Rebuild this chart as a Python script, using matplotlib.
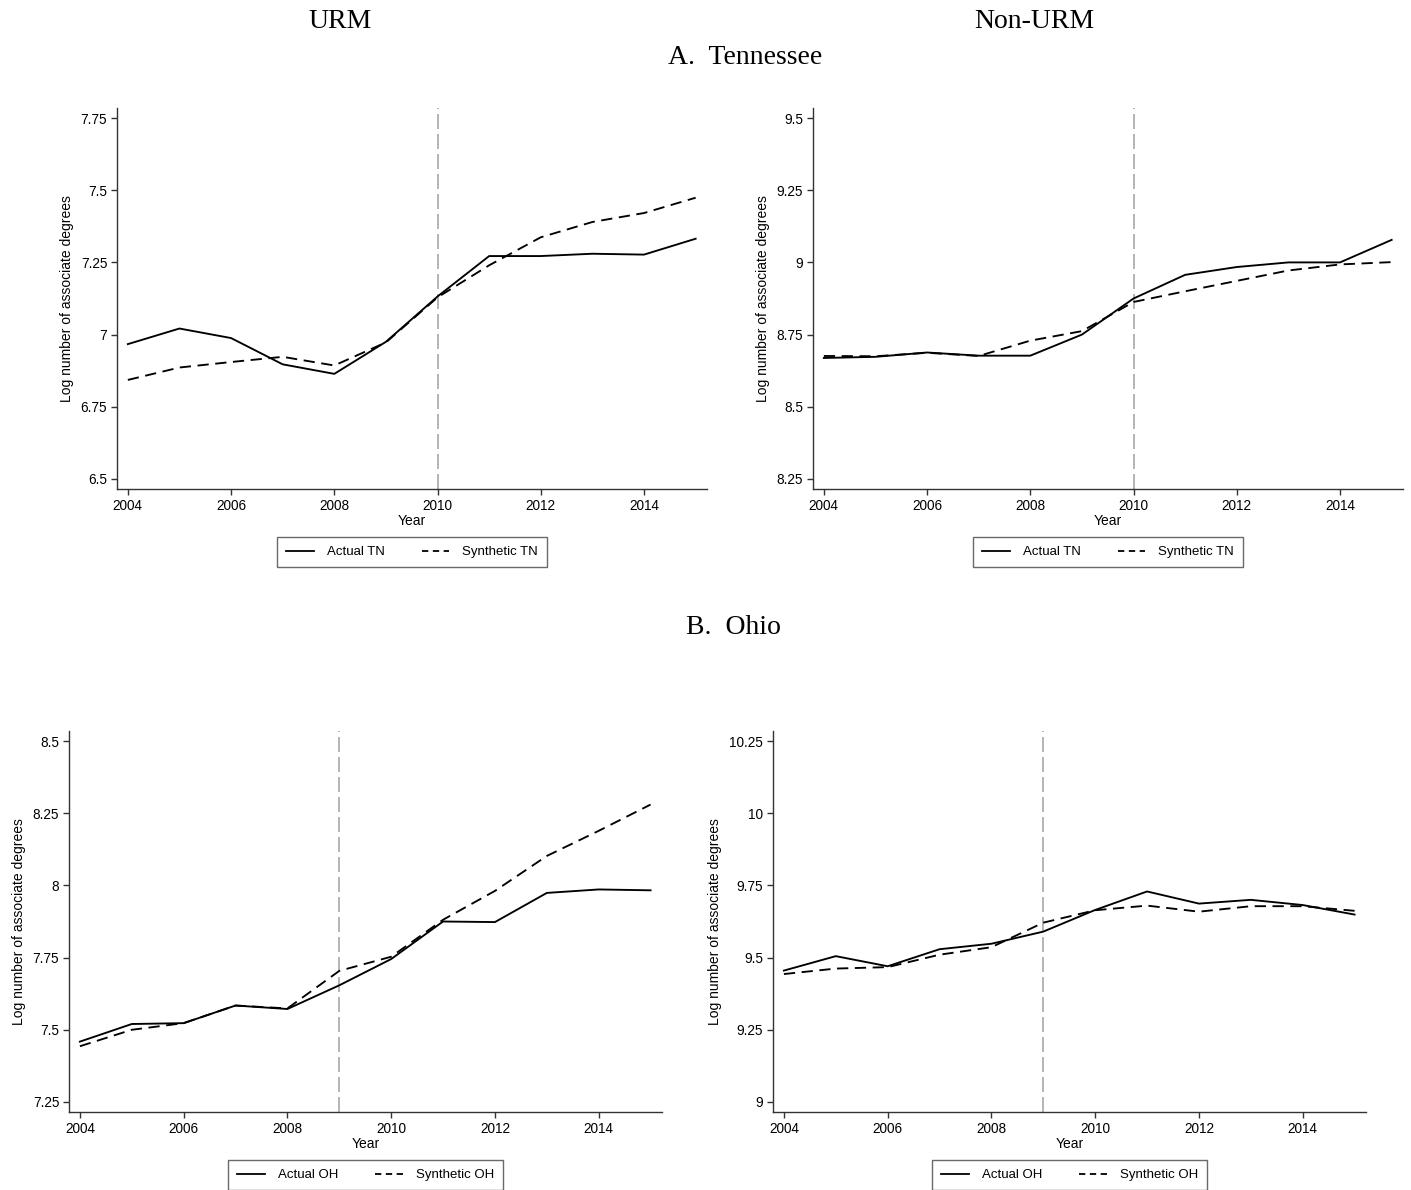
import matplotlib
matplotlib.use("Agg")
import matplotlib.pyplot as plt
from matplotlib.lines import Line2D

plt.rcParams['font.family'] = ['Liberation Sans', 'DejaVu Sans']

years = list(range(2004, 2016))

# Tennessee, URM
tn_urm_actual = [6.967, 7.021, 6.988, 6.897, 6.864, 6.975, 7.132, 7.272, 7.272, 7.280, 7.277, 7.332]
tn_urm_synth = [6.843, 6.886, 6.905, 6.923, 6.893, 6.973, 7.129, 7.240, 7.337, 7.390, 7.421, 7.474]
# Tennessee, non-URM
tn_non_actual = [8.669, 8.673, 8.688, 8.677, 8.677, 8.750, 8.875, 8.957, 8.984, 9.000, 9.000, 9.078]
tn_non_synth = [8.676, 8.675, 8.687, 8.676, 8.729, 8.762, 8.863, 8.900, 8.936, 8.972, 8.993, 9.001]
# Ohio, URM
oh_urm_actual = [7.459, 7.520, 7.523, 7.584, 7.572, 7.654, 7.745, 7.875, 7.873, 7.974, 7.986, 7.983]
oh_urm_synth = [7.443, 7.500, 7.523, 7.584, 7.574, 7.704, 7.753, 7.881, 7.981, 8.102, 8.189, 8.280]
# Ohio, non-URM
oh_non_actual = [9.455, 9.505, 9.470, 9.529, 9.548, 9.590, 9.665, 9.729, 9.687, 9.700, 9.682, 9.649]
oh_non_synth = [9.443, 9.462, 9.467, 9.510, 9.536, 9.621, 9.664, 9.680, 9.659, 9.678, 9.678, 9.662]

tn_yticks_urm = [6.5, 6.75, 7, 7.25, 7.5, 7.75]
tn_yticks_non = [8.25, 8.5, 8.75, 9, 9.25, 9.5]
oh_yticks_urm = [7.25, 7.5, 7.75, 8, 8.25, 8.5]
oh_yticks_non = [9, 9.25, 9.5, 9.75, 10, 10.25]
xticks = [2004, 2006, 2008, 2010, 2012, 2014]

W, H = 1411, 1190
fig = plt.figure(figsize=(W / 100, H / 100), dpi=100)


def fx(px):
    return px / W


def fy(py):
    return 1 - py / H


def panel(left, top, right, bottom, actual, synth, yticks, treat, state):
    ax = fig.add_axes([fx(left), fy(bottom), fx(right - left), (bottom - top) / H])
    ax.plot(years, actual, color='black', lw=1.35)
    ax.plot(years, synth, color='black', lw=1.35, dashes=(6, 3.5))
    ax.axvline(treat, color='#a8a8a8', lw=1.2, dashes=(9, 3), zorder=0)
    pad = (yticks[-1] - yticks[0]) * 10 / 360
    ax.set_ylim(yticks[0] - pad, yticks[-1] + pad)
    ax.set_xlim(2003.79, 2015.22)
    ax.set_xticks(xticks)
    ax.set_yticks(yticks)
    ax.set_yticklabels([f"{v:g}" for v in yticks])
    for side in ('top', 'right'):
        ax.spines[side].set_visible(False)
    for side in ('left', 'bottom'):
        ax.spines[side].set_color('#333333')
        ax.spines[side].set_linewidth(1.0)
    ax.tick_params(direction='out', length=4, width=1, color='#333333',
                   labelsize=9.8, pad=3)
    ax.set_xlabel('Year', fontsize=10, labelpad=1)
    ax.set_ylabel('Log number of associate degrees', fontsize=10, labelpad=5)

    # legend keys use shorter dashes than the plotted series
    handles = [Line2D([], [], color='black', lw=1.3),
               Line2D([], [], color='black', lw=1.3, dashes=(3.5, 2.5))]
    leg = fig.legend(handles, [f'Actual {state}', f'Synthetic {state}'],
                     loc='center', ncol=2,
                     bbox_to_anchor=(fx((left + right) / 2), fy(bottom + 63)),
                     fontsize=9.5, frameon=True, fancybox=False,
                     handlelength=2.1, columnspacing=2.8, borderpad=0.7,
                     handletextpad=1.0)
    leg.get_frame().set_edgecolor('#444444')
    leg.get_frame().set_linewidth(1.0)
    return ax


panel(117, 108, 707, 489, tn_urm_actual, tn_urm_synth, tn_yticks_urm, 2010, 'TN')
panel(813, 108, 1403, 489, tn_non_actual, tn_non_synth, tn_yticks_non, 2010, 'TN')
panel(69, 731, 662, 1112, oh_urm_actual, oh_urm_synth, oh_yticks_urm, 2009, 'OH')
panel(773, 731, 1366, 1112, oh_non_actual, oh_non_synth, oh_yticks_non, 2009, 'OH')

serif = dict(family=['Liberation Serif', 'DejaVu Serif'], fontsize=20, ha='center', va='center')
fig.text(fx(340), fy(22), 'URM', **serif)
fig.text(fx(1034), fy(22), 'Non-URM', **serif)
fig.text(fx(745), fy(58), 'A.  Tennessee', **serif)
fig.text(fx(733), fy(628), 'B.  Ohio', **serif)

fig.savefig('out.png', dpi=100, facecolor='white')
